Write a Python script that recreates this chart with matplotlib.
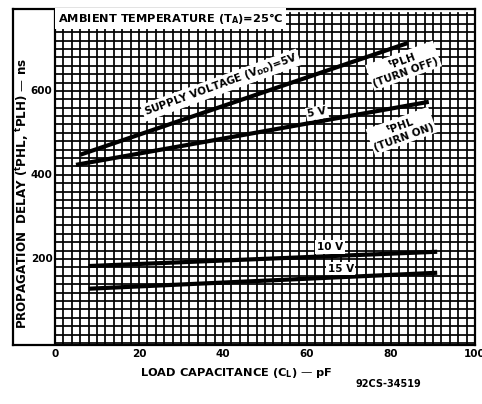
import matplotlib
matplotlib.use("Agg")
import matplotlib.pyplot as plt
import numpy as np

# Data (load capacitance pF -> propagation delay ns)
cap_plh_5v = [6, 84]
delay_plh_5v = [448, 714]
cap_phl_5v = [5, 89]
delay_phl_5v = [424, 574]
cap_10v = [8, 91]
delay_10v = [183, 217]
cap_15v = [8, 91]
delay_15v = [129, 167]

xticks = [0, 20, 40, 60, 80, 100]
yticks = [200, 400, 600]

plt.rcParams['font.family'] = ['DejaVu Sans']
fig = plt.figure(figsize=(4.82, 4.04), dpi=100)
ax = fig.add_axes([13/482, 1-345/404, (475-13)/482, (345-9)/404])
ax.set_xlim(-10, 100)
ax.set_ylim(-5, 795)

# grid
for gx in np.arange(0, 101, 2):
    ax.plot([gx, gx], [-5, 785], color='black', lw=1.25, zorder=1)
for gy in np.arange(0, 781, 20):
    ax.plot([0, 100], [gy, gy], color='black', lw=1.25, zorder=1)
ax.plot([0, 0], [-5, 795], color='black', lw=1.6, zorder=2)

for sp in ax.spines.values():
    sp.set_linewidth(1.6)
ax.set_xticks([])
ax.set_yticks([])

# data lines
kw = dict(color='black', lw=3.0, solid_capstyle='butt', zorder=4)
ax.plot(cap_plh_5v, delay_plh_5v, **kw)
ax.plot(cap_phl_5v, delay_phl_5v, **kw)
ax.plot(cap_10v, delay_10v, **kw)
ax.plot(cap_15v, delay_15v, **kw)

bb = dict(facecolor='white', edgecolor='none', pad=1.2)
fs = 7.5
# tick labels
for t in yticks:
    ax.text(-0.6, t, str(t), ha='right', va='center', fontsize=fs, fontweight='bold')
for t in xticks:
    ax.text(t, -14, str(t), ha='center', va='top', fontsize=fs, fontweight='bold',
            clip_on=False)

ax.text(0.7, 772, 'AMBIENT TEMPERATURE (T$_\\mathbf{A}$)=25°C', ha='left', va='center',
        fontsize=8.2, fontweight='bold', bbox=dict(facecolor='white', edgecolor='none', pad=2.0), zorder=6)

ax.text(39.5, 614, 'SUPPLY VOLTAGE (V$_\\mathbf{DD}$)=5V', ha='center', va='center', rotation=20,
        fontsize=fs, fontweight='bold', bbox=bb, zorder=6)
ax.text(62.4, 548, '5 V', ha='center', va='center', rotation=10,
        fontsize=fs, fontweight='bold', bbox=bb, zorder=6)
ax.text(83, 660, '$^\\mathbf{t}$PLH\n(TURN OFF)', ha='center', va='center', rotation=20,
        fontsize=fs, fontweight='bold', bbox=bb, zorder=6, linespacing=1.0)
ax.text(82.5, 505, '$^\\mathbf{t}$PHL\n(TURN ON)', ha='center', va='center', rotation=20,
        fontsize=fs, fontweight='bold', bbox=bb, zorder=6, linespacing=1.0)
ax.text(65.5, 228, '10 V', ha='center', va='center', fontsize=fs, fontweight='bold',
        bbox=bb, zorder=6)
ax.text(68, 177, '15 V', ha='center', va='center', fontsize=fs, fontweight='bold',
        bbox=bb, zorder=6)

ax.text(-7.8, 355, 'PROPAGATION  DELAY ($^\\mathbf{t}$PHL, $^\\mathbf{t}$PLH) — ns', rotation=90,
        ha='center', va='center', fontsize=8.6, fontweight='bold')

fig.text(236/482, 1-373/404, 'LOAD CAPACITANCE (C$_\\mathbf{L}$) — pF', ha='center', va='center',
         fontsize=8.2, fontweight='bold')
fig.text(388/482, 1-384/404, '92CS-34519', ha='center', va='center', fontsize=7, fontweight='bold')

fig.savefig('out.png', dpi=100)
